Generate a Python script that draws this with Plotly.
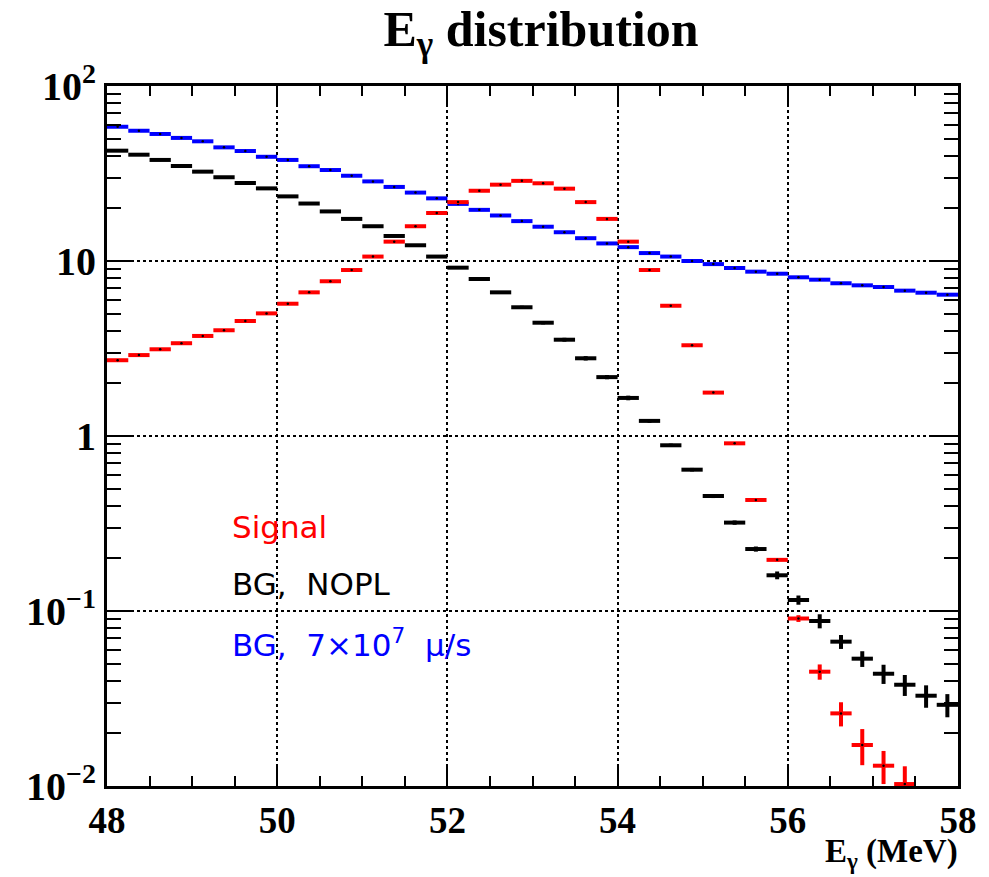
import plotly.graph_objects as go

# ---- data -------------------------------------------------------------
bin_edges_lo = 48.0
bin_width = 0.25
n_bins = 40
e_centers = [bin_edges_lo + bin_width * (i + 0.5) for i in range(n_bins)]

signal = [2.71, 2.90, 3.13, 3.39, 3.73, 4.02, 4.54, 5.02, 5.70, 6.62,
          7.66, 8.88, 10.6, 12.9, 15.8, 18.8, 21.7, 25.2, 27.3, 28.7,
          27.8, 25.9, 21.7, 17.4, 12.9, 8.88, 5.55, 3.30, 1.77, 0.908,
          0.431, 0.196, 0.0906, 0.0450, 0.0260, 0.01715, 0.01306, 0.01026, None, None]
signal_err = [0.03, 0.03, 0.03, 0.03, 0.04, 0.04, 0.04, 0.05, 0.05, 0.06,
              0.06, 0.07, 0.08, 0.09, 0.1, 0.11, 0.12, 0.13, 0.14, 0.14,
              0.14, 0.13, 0.12, 0.11, 0.09, 0.07, 0.05, 0.035, 0.025, 0.015,
              0.006, 0.004, 0.004, 0.0045, 0.0041, 0.0040, 0.0028, 0.0027, 0, 0]

bg_nopl = [42.7, 40.5, 37.8, 34.9, 32.4, 30.1, 27.9, 26.0, 23.4, 21.3,
           19.2, 17.4, 15.8, 13.9, 12.3, 10.6, 9.16, 7.89, 6.62, 5.44,
           4.44, 3.55, 2.78, 2.17, 1.65, 1.22, 0.885, 0.642, 0.454, 0.320,
           0.226, 0.160, 0.1156, 0.0877, 0.0668, 0.0534, 0.0438, 0.0379, 0.0328, 0.0291]
bg_nopl_err = [0.3, 0.3, 0.28, 0.27, 0.26, 0.25, 0.24, 0.23, 0.22, 0.21,
               0.2, 0.19, 0.18, 0.17, 0.16, 0.15, 0.14, 0.13, 0.12, 0.11,
               0.1, 0.09, 0.08, 0.06, 0.05, 0.03, 0.02, 0.015, 0.012, 0.009,
               0.0076, 0.0082, 0.0070, 0.0081, 0.0061, 0.0055, 0.0055, 0.0052, 0.0048, 0.0044]

bg_7e7 = [58.5, 55.5, 53.2, 50.5, 48.3, 44.6, 42.5, 39.4, 37.8, 34.8,
          33.1, 30.7, 28.5, 26.5, 24.6, 22.8, 21.2, 19.6, 18.2, 16.9,
          15.7, 14.6, 13.5, 12.6, 12.0, 11.1, 10.6, 10.0, 9.6, 9.12,
          8.69, 8.46, 8.07, 7.82, 7.46, 7.26, 7.10, 6.77, 6.59, 6.42]
bg_7e7_err = [0.6, 0.6, 0.55, 0.55, 0.5, 0.45, 0.45, 0.4, 0.4, 0.35,
              0.35, 0.3, 0.3, 0.28, 0.26, 0.24, 0.22, 0.2, 0.19, 0.18,
              0.17, 0.16, 0.15, 0.14, 0.13, 0.12, 0.11, 0.11, 0.1, 0.1,
              0.09, 0.09, 0.09, 0.08, 0.08, 0.08, 0.08, 0.07, 0.07, 0.07]

y_tickvals = [0.01, 0.1, 1, 10, 100]
y_ticktext = ["10<sup>\u22122</sup>", "10<sup>\u22121</sup>", "1", "10", "10<sup>2</sup>"]
x_tickvals = [48, 50, 52, 54, 56, 58]

series = [
    ("BG, 7\u00d710<sup>7</sup> \u03bc/s", bg_7e7, bg_7e7_err, "#0000ff"),
    ("BG, NOPL", bg_nopl, bg_nopl_err, "#000000"),
    ("Signal", signal, signal_err, "#ff0000"),
]

fig = go.Figure()
for name, vals, errs, col in series:
    fig.add_trace(go.Scatter(
        x=e_centers, y=vals, mode="markers", name=name, showlegend=False,
        marker=dict(color="black", size=2.5, symbol="circle"),
        error_x=dict(type="constant", value=bin_width / 2, color=col, thickness=4, width=0),
        error_y=dict(type="data", array=errs, color=col, thickness=4, width=0),
    ))

W, H = 989, 877
L, R, T, B = 107, 23, 86, 91

fig.update_layout(
    width=W, height=H,
    margin=dict(l=L, r=R, t=T, b=B),
    paper_bgcolor="white", plot_bgcolor="white",
    title=dict(text="E<sub>\u03b3</sub> distribution", x=(541 / W), xanchor="center",
               y=1 - 28 / H, yanchor="middle",
               font=dict(family="Liberation Serif", size=50, color="black", weight="bold")),
)

fig.update_xaxes(
    range=[48, 58], tickvals=x_tickvals,
    ticks="inside", ticklen=20, tickwidth=1.5, tickcolor="black",
    minor=dict(dtick=0.5, ticks="inside", ticklen=10, tickwidth=1.5, tickcolor="black", showgrid=False),
    showline=True, linewidth=3, linecolor="black", mirror="allticks",
    showgrid=True, gridcolor="black", griddash="dot", gridwidth=1.5,
    zeroline=False,
    tickfont=dict(family="Liberation Serif", size=37, color="black", weight="bold"),
)
fig.update_yaxes(
    type="log", range=[-2, 2], tickvals=y_tickvals, ticktext=y_ticktext,
    ticks="inside", ticklen=26, tickwidth=1.5, tickcolor="black",
    minor=dict(dtick="D1", ticks="inside", ticklen=14, tickwidth=1.5, tickcolor="black", showgrid=False),
    showline=True, linewidth=3, linecolor="black", mirror="allticks",
    showgrid=True, gridcolor="black", griddash="dot", gridwidth=1.5,
    zeroline=False,
    tickfont=dict(family="Liberation Serif", size=40, color="black", weight="bold"),
)

pw = W - L - R
ph = H - T - B
def px(xp):
    return (xp - L) / pw
def py(yp):
    return (H - B - yp) / ph

legend_font = "DejaVu Sans"
for text, col, yc in [("Signal", "#ff0000", 527),
                      ("BG,  NOPL", "#000000", 584),
                      ("BG,  7\u00d710<sup>7</sup>  \u03bc/s", "#0000ff", 643)]:
    fig.add_annotation(text=text, xref="paper", yref="paper", x=px(231), y=py(yc),
                       xanchor="left", yanchor="middle", showarrow=False,
                       font=dict(family=legend_font, size=31, color=col))

fig.add_annotation(text="E<sub>\u03b3</sub> (MeV)", xref="paper", yref="paper",
                   x=px(968), y=py(853), xanchor="right", yanchor="middle", showarrow=False,
                   font=dict(family="Liberation Serif", size=33, color="black", weight="bold"))

fig.write_html("out.html")
